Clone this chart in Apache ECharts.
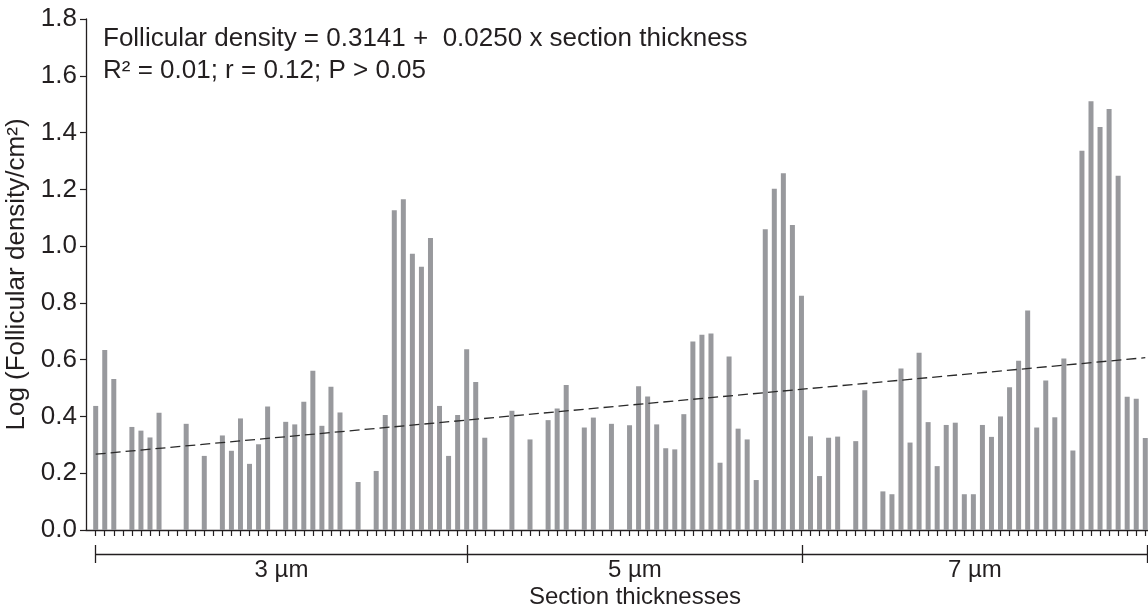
<!DOCTYPE html>
<html>
<head>
<meta charset="utf-8">
<script src="https://cdn.jsdelivr.net/npm/echarts@6/dist/echarts.min.js"></script>
<style>
  html, body { margin: 0; padding: 0; background: #fff; }
  #chart { width: 1148px; height: 614px; }
</style>
</head>
<body>
<div id="chart"></div>
<script>
// ---- data ----
// one value per section (category index 0..116); null = no bar
const densityValues = [
  0.437, 0.634, 0.532, null, 0.363, 0.350, 0.326, 0.413, null, null,
  0.374, null, 0.261, null, 0.333, 0.279, 0.393, 0.233, 0.302, 0.435,
  null, 0.381, 0.372, 0.452, 0.561, 0.367, 0.505, 0.414, null, 0.169,
  null, 0.208, 0.405, 1.126, 1.165, 0.973, 0.927, 1.029, 0.437, 0.261,
  0.405, 0.637, 0.521, 0.325, null, null, 0.420, null, 0.319, null,
  0.387, 0.428, 0.511, null, 0.361, 0.396, null, 0.374, null, 0.369,
  0.506, 0.470, 0.372, 0.288, 0.284, 0.408, 0.664, 0.688, 0.692, 0.237,
  0.611, 0.357, 0.319, 0.176, 1.059, 1.202, 1.257, 1.074, 0.825, 0.330,
  0.190, 0.325, 0.329, null, 0.313, 0.492, null, 0.136, 0.126, 0.569,
  0.308, 0.624, 0.380, 0.225, 0.370, 0.378, 0.126, 0.126, 0.370, 0.328,
  0.400, 0.503, 0.596, 0.773, 0.361, 0.527, 0.397, 0.604, 0.280, 1.336,
  1.510, 1.420, 1.483, 1.248, 0.469, 0.462, 0.324
];
const sectionIndex = densityValues.map((v, i) => i);
// thickness groups: labels and category boundaries
const groupLabels = ['3 µm', '5 µm', '7 µm'];
const groupBounds = [0, 41, 78, 116];
// regression (dashed) line end points
const trendX = [0, 116];
const trendY = [0.267, 0.607];
// y-axis ticks
const yMin = 0, yMax = 1.8, yStep = 0.2;
const eqLine1 = 'Follicular density = 0.3141 +  0.0250 x section thickness';
const eqLine2 = 'R² = 0.01; r = 0.12; P > 0.05';
const yName = 'Log (Follicular density/cm²)';
const xName = 'Section thicknesses';

// ---- chart ----
const FONT = '"Liberation Sans", Arial, sans-serif';
const INK = '#231f20';
const groupMids = groupLabels.map((l, k) => (groupBounds[k] + groupBounds[k + 1]) / 2);

const bracketGrid = { left: 95.7, right: 1, top: 19, bottom: 84, outerBoundsMode: 'none' };

const chart = echarts.init(document.getElementById('chart'), null, { renderer: 'canvas' });
chart.setOption({
  animation: false,
  backgroundColor: '#fff',
  textStyle: { fontFamily: FONT, color: INK },
  title: [
    { text: eqLine1, left: 103, top: 26, padding: 0,
      textStyle: { fontFamily: FONT, fontSize: 26, fontWeight: 'normal', color: INK } },
    { text: eqLine2, left: 103, top: 58, padding: 0,
      textStyle: { fontFamily: FONT, fontSize: 26, fontWeight: 'normal', color: INK } }
  ],
  graphic: [
    { type: 'text', x: 635, y: 597,
      style: { text: xName, font: '24px ' + FONT, fill: INK,
               textAlign: 'center', textVerticalAlign: 'middle' } }
  ],
  grid: [
    { left: 86, right: 0, top: 19, bottom: 84, outerBoundsMode: 'none', containLabel: false },
    bracketGrid,
    Object.assign({}, bracketGrid)
  ],
  xAxis: [
    {
      type: 'value', gridIndex: 0, min: -1.072, max: 116.3,
      splitLine: { show: false },
      axisLine: { show: true, onZero: false, lineStyle: { color: INK, width: 1.3 } },
      axisTick: { show: true, inside: false, length: 6, customValues: sectionIndex,
                  lineStyle: { color: INK, width: 1.2 } },
      axisLabel: { show: false }
    },
    {
      type: 'value', gridIndex: 1, min: groupBounds[0], max: groupBounds[groupBounds.length - 1],
      position: 'bottom', offset: 24,
      splitLine: { show: false },
      axisLine: { show: true, onZero: false, lineStyle: { color: INK, width: 1.3 } },
      axisTick: { show: true, inside: false, length: 9, customValues: groupBounds,
                  lineStyle: { color: INK, width: 1.3 } },
      axisLabel: { show: true, customValues: groupMids, margin: 4,
                   fontFamily: FONT, fontSize: 24, color: INK,
                   formatter: v => groupLabels[groupMids.indexOf(v)] || '' }
    },
    {
      type: 'value', gridIndex: 2, min: groupBounds[0], max: groupBounds[groupBounds.length - 1],
      position: 'bottom', offset: 24,
      splitLine: { show: false },
      axisLine: { show: false, onZero: false },
      axisTick: { show: true, inside: true, length: 9, customValues: groupBounds,
                  lineStyle: { color: INK, width: 1.3 } },
      axisLabel: { show: false }
    }
  ],
  yAxis: [
    {
      type: 'value', gridIndex: 0, min: yMin, max: yMax, interval: yStep,
      name: yName, nameLocation: 'middle', nameRotate: 90, nameGap: 53,
      nameTextStyle: { fontFamily: FONT, fontSize: 26, color: INK },
      splitLine: { show: false },
      axisLine: { show: true, onZero: false, lineStyle: { color: INK, width: 1.3 } },
      axisTick: { show: true, inside: false, length: 6, lineStyle: { color: INK, width: 1.2 } },
      axisLabel: { margin: 9, fontFamily: FONT, fontSize: 26, color: INK,
                   formatter: v => v.toFixed(1) }
    },
    { type: 'value', gridIndex: 1, min: 0, max: 1, show: false },
    { type: 'value', gridIndex: 2, min: 0, max: 1, show: false }
  ],
  series: [
    {
      type: 'bar', xAxisIndex: 0, yAxisIndex: 0,
      barWidth: 5,
      itemStyle: { color: '#98999d' },
      data: densityValues.map((v, i) => [sectionIndex[i], v]).filter(d => d[1] !== null),
      z: 2
    },
    {
      type: 'line', xAxisIndex: 0, yAxisIndex: 0,
      symbol: 'none',
      lineStyle: { color: '#2a2a2a', width: 1.3, type: [10, 5] },
      data: trendX.map((x, k) => [x, trendY[k]]),
      z: 3
    }
  ]
});
</script>
</body>
</html>
